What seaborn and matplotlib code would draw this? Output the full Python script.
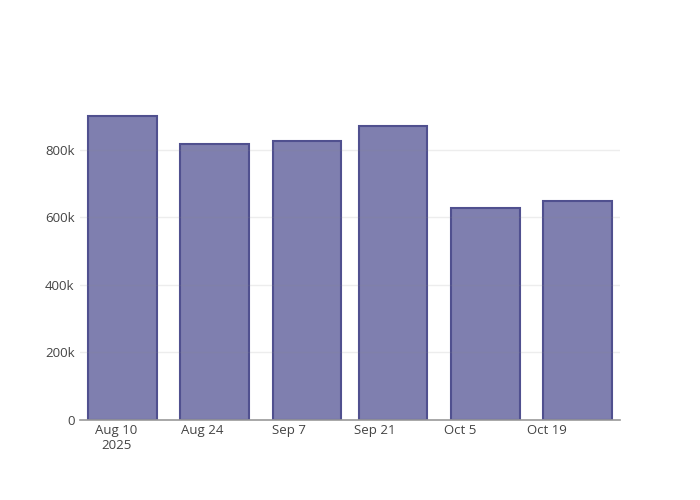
import matplotlib
matplotlib.use('Agg')
from matplotlib import pyplot as plt
import matplotlib.dates as mdates
import pandas as pd
import seaborn as sns

# data
dates = ['2025-08-11', '2025-08-26', '2025-09-10', '2025-09-24', '2025-10-09', '2025-10-24']
values = [900000, 818000, 826000, 871000, 628000, 649000]
tick_dates = ['2025-08-10', '2025-08-24', '2025-09-07', '2025-09-21', '2025-10-05', '2025-10-19']
tick_labels = ['Aug 10\n2025', 'Aug 24', 'Sep 7', 'Sep 21', 'Oct 5', 'Oct 19']
y_ticks = [0, 200000, 400000, 600000, 800000]
y_labels = ['0', '200k', '400k', '600k', '800k']

sns.set_style('white')
plt.rcParams['font.family'] = ['Open Sans', 'DejaVu Sans']

df = pd.DataFrame({'x': mdates.date2num(pd.to_datetime(dates)), 'value': values})

fig = plt.figure(figsize=(7, 5), dpi=100)
ax = fig.add_axes([80 / 700, 80 / 500, 540 / 700, 320 / 500])

sns.barplot(df, x='x', y='value', native_scale=True, width=0.8, ax=ax,
            color='#7f7faf', edgecolor='#50508f', linewidth=1.5, saturation=1)

ax.set_xlim(mdates.date2num(pd.Timestamp('2025-08-04 02:00')),
            mdates.date2num(pd.Timestamp('2025-10-30 22:00')))
ax.set_ylim(0, 948000)

ax.set_xticks(mdates.date2num(pd.to_datetime(tick_dates)))
ax.set_xticklabels(tick_labels)
ax.set_yticks(y_ticks)
ax.set_yticklabels(y_labels)
ax.tick_params(axis='both', length=0, labelsize=9.5, colors='#444444')
ax.tick_params(axis='x', pad=3)
ax.tick_params(axis='y', pad=4)

# faint grid sits over the bars like in the original
for y in y_ticks[1:]:
    ax.axhline(y, color='#888888', alpha=0.15, lw=1, zorder=3)

for side in ['top', 'right', 'left']:
    ax.spines[side].set_visible(False)
ax.spines['bottom'].set_color('#999999')
ax.spines['bottom'].set_linewidth(1.2)

ax.set_xlabel('')
ax.set_ylabel('')

fig.savefig('out.png', dpi=100)
